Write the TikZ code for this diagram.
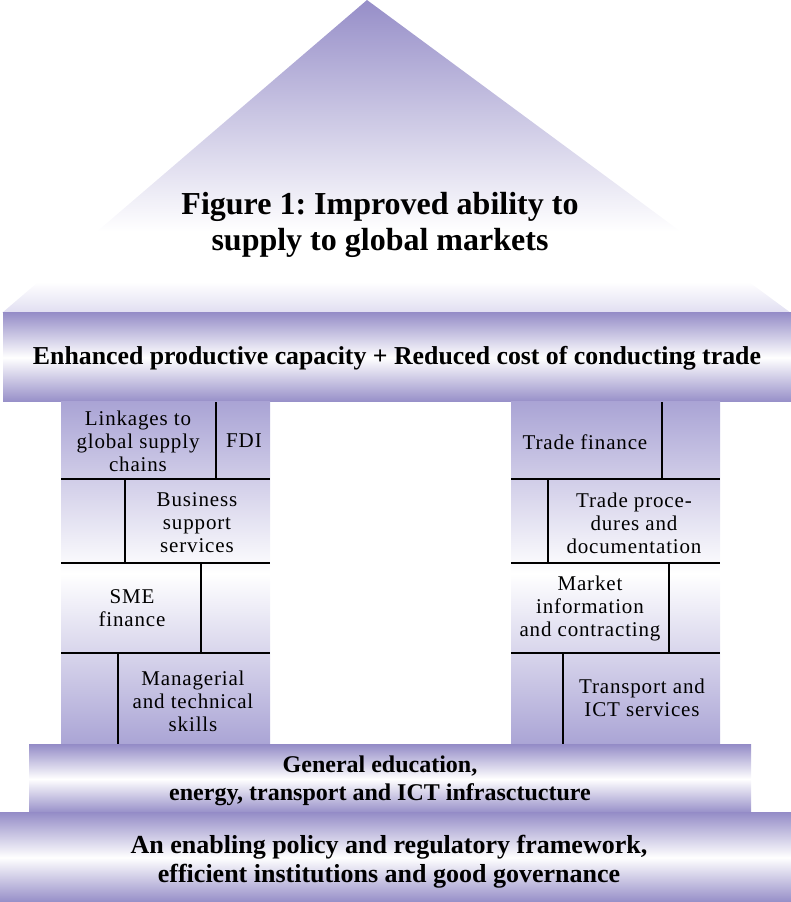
\documentclass[tikz,border=0pt]{standalone}
\usepackage{fontspec}
\setmainfont{Liberation Serif}
\newfontfamily\cellfont[LetterSpace=4]{Liberation Serif}
\usetikzlibrary{backgrounds}
\definecolor{edgepurple}{RGB}{150,142,200}
\definecolor{pillarpurple}{RGB}{170,164,213}
\definecolor{rooflow}{RGB}{224,222,241}
\pgfdeclareverticalshading{roofshade}{100bp}{color(0bp)=(rooflow); color(25bp)=(rooflow); color(30bp)=(white); color(38bp)=(white); color(75bp)=(edgepurple); color(100bp)=(edgepurple)}
\frenchspacing

\begin{document}
\begin{tikzpicture}[x=0.5pt,y=0.5pt,
  band/.style={top color=edgepurple,bottom color=edgepurple,middle color=white},
  pillar/.style={top color=pillarpurple,bottom color=pillarpurple,middle color=white},
  seam/.style={black,line width=0.6pt},
  celltext/.style={align=center,inner sep=0pt,font=\cellfont\fontsize{10.5}{11.5}\selectfont},
  bandtext/.style={align=center,inner sep=0pt,font=\bfseries\fontsize{12}{14}\selectfont}]
\useasboundingbox (0,0) rectangle (791,902);
% roof
\shade[shading=roofshade] (2,589) -- (367,902) -- (791,589) -- cycle;
\node[align=center,inner sep=0pt,font=\bfseries\fontsize{16}{18}\selectfont] (title) at (380,677) {Figure 1: Improved ability to\\supply to global markets};
% beam
\shade[band] (3,500) rectangle (791,589);
\node[bandtext,font=\bfseries\fontsize{12.9}{14}\selectfont] (capacity) at (397,544) {Enhanced productive capacity + Reduced cost of conducting trade};
% pillars
\shade[pillar] (61,157) rectangle (270,500);
\shade[pillar] (511,157) rectangle (720,500);
\foreach \y in {249,339,423}
  \draw[seam] (61,\y) -- (270,\y) (511,\y) -- (720,\y);
% left pillar
\draw[seam] (216,423) -- (216,500);
\draw[seam] (125,339) -- (125,423);
\draw[seam] (201,249) -- (201,339);
\draw[seam] (118,157) -- (118,249);
\node[celltext] (linkages) at (138,461) {Linkages to\\global supply\\chains};
\node[celltext] (fdi) at (244,461) {FDI};
\node[celltext] (business) at (197,379) {Business\\support\\services};
\node[celltext] (sme) at (132,294) {SME\\finance};
\node[celltext] (skills) at (193,201) {Managerial\\and technical\\skills};
% right pillar
\draw[seam] (662,423) -- (662,500);
\draw[seam] (548,339) -- (548,423);
\draw[seam] (669,249) -- (669,339);
\draw[seam] (563,157) -- (563,249);
\node[celltext] (tradefin) at (585,460) {Trade finance};
\node[celltext] (procedures) at (634,379) {Trade proce-\\dures and\\documentation};
\node[celltext] (market) at (590,294) {Market\\information\\and contracting};
\node[celltext] (transport) at (642,204) {Transport and\\ICT services};
% foundations
\shade[band] (29,89) rectangle (751,157);
\node[bandtext] (education) at (380,121) {General education,\\energy, transport and ICT infrasctucture};
\shade[band] (0,0) rectangle (791,89);
\node[bandtext,font=\bfseries\fontsize{13}{14.5}\selectfont] (policy) at (389,40) {An enabling policy and regulatory framework,\\efficient institutions and good governance};
\end{tikzpicture}
\end{document}
